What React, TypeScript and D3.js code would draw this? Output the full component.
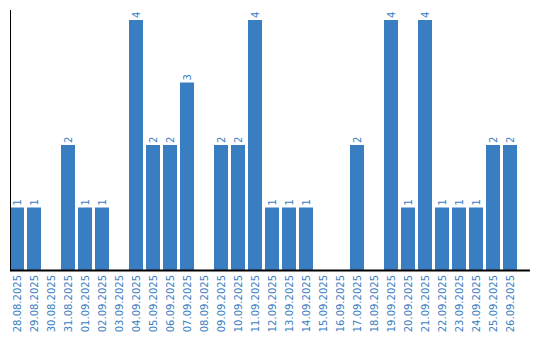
import React from "react";
import * as d3 from "d3";

const dates = [
  "28.08.2025", "29.08.2025", "30.08.2025", "31.08.2025", "01.09.2025", "02.09.2025",
  "03.09.2025", "04.09.2025", "05.09.2025", "06.09.2025", "07.09.2025", "08.09.2025",
  "09.09.2025", "10.09.2025", "11.09.2025", "12.09.2025", "13.09.2025", "14.09.2025",
  "15.09.2025", "16.09.2025", "17.09.2025", "18.09.2025", "19.09.2025", "20.09.2025",
  "21.09.2025", "22.09.2025", "23.09.2025", "24.09.2025", "25.09.2025", "26.09.2025",
];
const counts = [1, 1, 0, 2, 1, 1, 0, 4, 2, 2, 3, 0, 2, 2, 4, 1, 1, 1, 0, 0, 2, 0, 4, 1, 4, 1, 1, 1, 2, 2];

const W = 540;
const H = 340;
const BLUE = "#3a7ec2";
const FONT = "'DejaVu Sans', Verdana, sans-serif";

export default function App() {
  const x = d3.scaleBand<string>().domain(dates).range([10, 517]).paddingInner(3 / 17).paddingOuter(0);
  const y = d3.scaleLinear().domain([0, 4]).range([270, 20]);
  const base = y(0);
  return (
    <svg width={W} height={H} style={{ position: "absolute", left: 0, top: 0 }}>
      {dates.map((d, i) => {
        const v = counts[i];
        const cx = (x(d) as number) + x.bandwidth() / 2;
        return (
          <g key={d}>
            {v > 0 && (
              <>
                <rect x={x(d)} y={y(v)} width={x.bandwidth()} height={base - y(v)} fill={BLUE} />
                <text
                  transform={`translate(${cx + 3.5},${y(v) - 2}) rotate(-90)`}
                  fontFamily={FONT}
                  fontSize={10}
                  fill={BLUE}
                  textAnchor="start"
                >
                  {v}
                </text>
              </>
            )}
            <text
              transform={`translate(${cx + 3.5},${base + 5}) rotate(-90)`}
              fontFamily={FONT}
              fontSize={10}
              fill={BLUE}
              textAnchor="end"
            >
              {d}
            </text>
          </g>
        );
      })}
      <line x1={10.5} x2={10.5} y1={10} y2={270} stroke="#000" strokeWidth={1} />
      <line x1={10} x2={530} y1={270.5} y2={270.5} stroke="#000" strokeWidth={2} />
    </svg>
  );
}
